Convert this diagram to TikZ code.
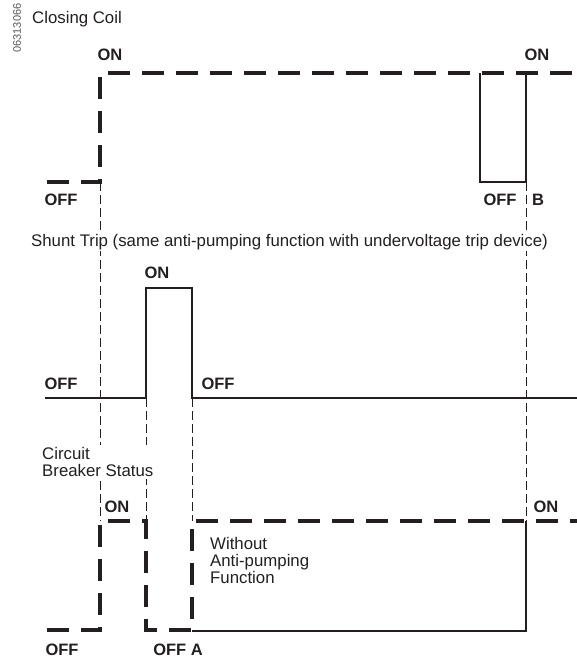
\documentclass[tikz,border=0pt]{standalone}
\usepackage{fontspec}
\setmainfont{Liberation Sans}
\usepackage{xcolor}
\usepackage{tikz}
\definecolor{ink}{RGB}{35,31,32}

\begin{document}
\begin{tikzpicture}[x=1pt,y=-1pt,every node/.style={font=\fontsize{16.8}{17}\selectfont,text=ink,inner sep=0pt},lbl/.style={font=\fontsize{16.5}{17}\selectfont\bfseries},state/.style={draw=ink,line width=3.8pt,dash pattern=on 22pt off 12pt},trace/.style={draw=ink,line width=2pt},guide/.style={draw=ink,line width=0.8pt,dash pattern=on 9pt off 4pt},title/.style={anchor=base west,fill=white,inner sep=2pt}]
\useasboundingbox (0,0) rectangle (577,659);
\draw[guide] (100,182)--(100,521);
\draw[guide] (146,398)--(146,521);
\draw[guide] (192,398)--(192,521);
\draw[guide] (526,182)--(526,521);
\node[rotate=90,font=\fontsize{11}{12}\selectfont,text=ink!75] (ref) at (17,28) {06313066};
\node[title] (coil) at (30,23) {Closing Coil};
\node[title] (shunt) at (29,246) {Shunt Trip (same anti-pumping function with undervoltage trip device)};
\node[title,anchor=north west,align=left] (status) at (40,445) {Circuit\\Breaker Status};
\node[anchor=north west,align=left] (noanti) at (210,537) {Without\\Anti-pumping\\Function};
\draw[state] (47,182)--(100,182)--(100,73)--(577,73);
\draw[trace] (480,73)--(480,182)--(526,182)--(526,73);
\draw[trace] (45,398)--(146,398)--(146,288)--(192,288)--(192,398)--(577,398);
\draw[trace] (192,631)--(526,631)--(526,521);
\draw[state] (47,630)--(100,630)--(100,521)--(146,521)--(146,630)--(192,630)--(192,521)--(577,521);
\node[lbl] (coilon) at (110,55) {ON};
\node[lbl] (coilon2) at (537,55) {ON};
\node[lbl] (coiloff) at (61,200) {OFF};
\node[lbl] (coiloff2) at (500,200) {OFF};
\node[lbl] (pointb) at (538,200) {B};
\node[lbl] (shunton) at (157,273) {ON};
\node[lbl] (shuntoff) at (61,384) {OFF};
\node[lbl] (shuntoff2) at (218,384) {OFF};
\node[lbl] (statuson) at (117,507) {ON};
\node[lbl] (statuson2) at (546,507) {ON};
\node[lbl] (statusoff) at (62,650) {OFF};
\node[lbl] (pointa) at (178,650) {OFF A};
\end{tikzpicture}
\end{document}
